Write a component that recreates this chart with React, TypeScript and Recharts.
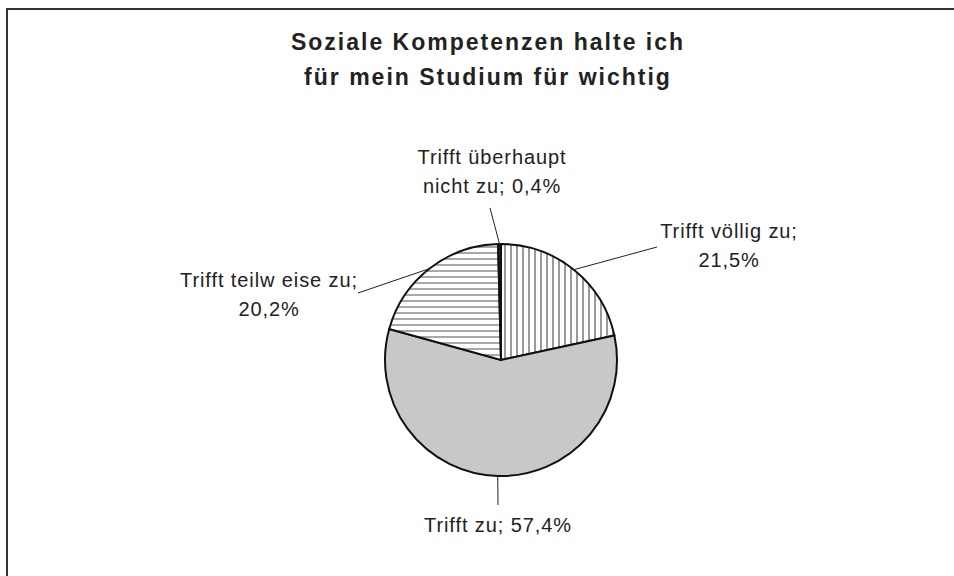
import { PieChart, Pie, Cell } from 'recharts';

// slices, clockwise from 12 o'clock
const categories = ['Trifft völlig zu', 'Trifft zu', 'Trifft teilweise zu', 'Trifft überhaupt nicht zu'];
const values = [21.5, 57.4, 20.2, 0.4];
const labelLines = [
  ['Trifft völlig zu;', '21,5%'],
  ['Trifft zu; 57,4%'],
  ['Trifft teilw eise zu;', '20,2%'],
  ['Trifft überhaupt', 'nicht zu; 0,4%'],
];
const titleLines = ['Soziale Kompetenzen halte ich', 'für mein Studium für wichtig'];

const FILLS = ['url(#vstripes)', '#c8c8c8', 'url(#hstripes)', '#222'];

// label placement relative to pie centre: leader end, text x, first baseline
const LABEL_LAYOUT = [
  { lx: 156, ly: -113, tx: 228, ty: -122 },
  { lx: -3, ly: 145, tx: -3, ty: 172 },
  { lx: -143, ly: -67, tx: -232, ty: -73 },
  { lx: -11, ly: -152, tx: -9, ty: -196 },
];

const data = categories.map((name, i) => ({ name, value: values[i] }));

const RAD = Math.PI / 180;

function renderLabel(props: any) {
  const { cx, cy, midAngle, outerRadius, index } = props;
  const lay = LABEL_LAYOUT[index];
  const sx = cx + outerRadius * Math.cos(-midAngle * RAD);
  const sy = cy + outerRadius * Math.sin(-midAngle * RAD);
  const lines = labelLines[index];
  return (
    <g key={`lbl-${index}`}>
      <line x1={sx} y1={sy} x2={cx + lay.lx} y2={cy + lay.ly} stroke="#222" strokeWidth={1} />
      <text
        x={cx + lay.tx}
        y={cy + lay.ty}
        textAnchor="middle"
        fontFamily="Liberation Sans, Arial, sans-serif"
        fontSize={20}
        letterSpacing={0.9}
        fill="#222"
      >
        {lines.map((ln, j) => (
          <tspan key={j} x={cx + lay.tx} dy={j === 0 ? 0 : 29}>
            {ln}
          </tspan>
        ))}
      </text>
    </g>
  );
}

export default function App() {
  return (
    <div style={{ position: 'absolute', left: 0, top: 0, width: 954, height: 576, background: '#fff', overflow: 'hidden' }}>
      <svg width={0} height={0} style={{ position: 'absolute' }}>
        <defs>
          <pattern id="vstripes" width={6} height={6} patternUnits="userSpaceOnUse">
            <rect width={6} height={6} fill="#fff" />
            <rect x={0} y={0} width={2} height={6} fill="#9a9a9a" />
          </pattern>
          <pattern id="hstripes" width={6} height={6} patternUnits="userSpaceOnUse">
            <rect width={6} height={6} fill="#fff" />
            <rect x={0} y={0} width={6} height={2} fill="#a8a8a8" />
          </pattern>
        </defs>
      </svg>
      <div
        style={{
          position: 'absolute',
          left: 6,
          top: 8,
          width: 980,
          height: 600,
          border: '2px solid #333',
        }}
      />
      <div
        style={{
          position: 'absolute',
          left: 0,
          top: 25,
          width: 976,
          textAlign: 'center',
          fontFamily: 'Liberation Sans, Arial, sans-serif',
          fontWeight: 'bold',
          fontSize: 23,
          lineHeight: '35px',
          letterSpacing: 2,
          color: '#222',
        }}
      >
        {titleLines.map((t) => (
          <div key={t}>{t}</div>
        ))}
      </div>
      <div style={{ position: 'absolute', left: 0, top: 0 }}>
        <PieChart width={954} height={576} margin={{ top: 0, right: 0, bottom: 0, left: 0 }}>
          <Pie
            data={data}
            dataKey="value"
            nameKey="name"
            cx={501}
            cy={360}
            outerRadius={116}
            startAngle={90}
            endAngle={-270}
            stroke="#111"
            strokeWidth={2}
            label={renderLabel}
            labelLine={false}
            isAnimationActive={false}
          >
            {data.map((d, i) => (
              <Cell key={d.name} fill={FILLS[i]} />
            ))}
          </Pie>
        </PieChart>
      </div>
    </div>
  );
}
